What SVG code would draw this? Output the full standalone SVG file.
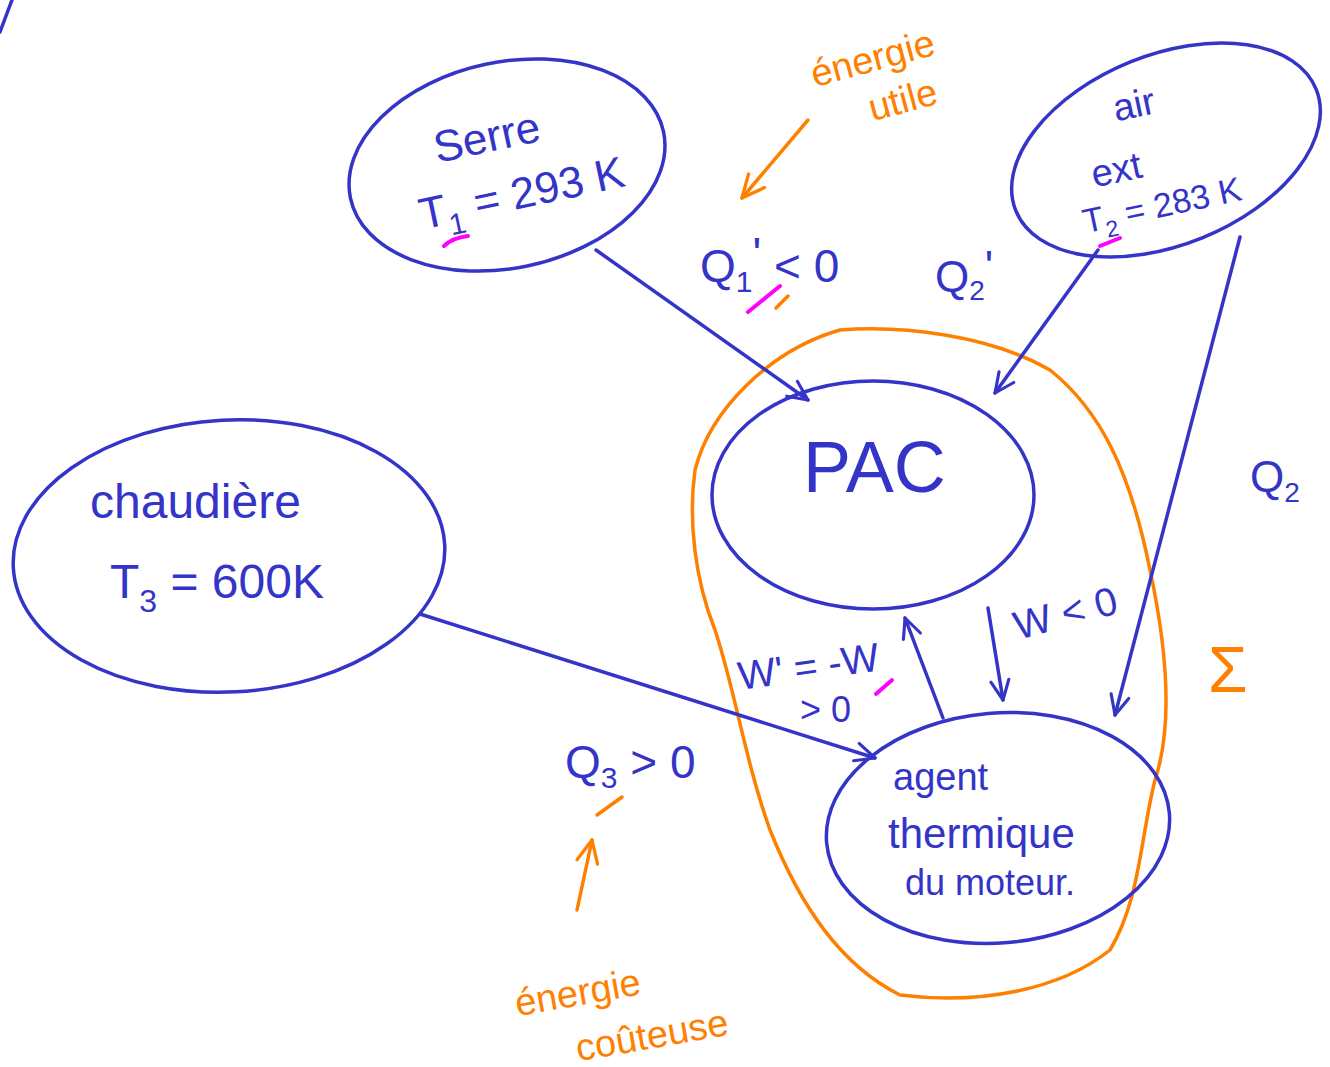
<svg xmlns="http://www.w3.org/2000/svg" width="1330" height="1067" viewBox="0 0 1330 1067">
<defs>
<style>
.b{fill:none;stroke:#3434C8;stroke-width:3.5;stroke-linecap:round;stroke-linejoin:round}
.o{fill:none;stroke:#FF8000;stroke-width:3.5;stroke-linecap:round;stroke-linejoin:round}
.m{fill:none;stroke:#FF00FF;stroke-width:4;stroke-linecap:round}
.tb{fill:#3434C8;font-family:"Liberation Sans","DejaVu Sans",sans-serif}
.to{fill:#FF8000;font-family:"Liberation Sans","DejaVu Sans",sans-serif}
</style>
<marker id="ab" viewBox="0 0 20 20" refX="18" refY="10" markerWidth="26" markerHeight="26" markerUnits="userSpaceOnUse" orient="auto">
<path d="M3,3 L18,10 L3,17" fill="none" stroke="#3434C8" stroke-width="2.4" stroke-linecap="round" stroke-linejoin="round"/>
</marker>
<marker id="ao" viewBox="0 0 20 20" refX="18" refY="10" markerWidth="30" markerHeight="30" markerUnits="userSpaceOnUse" orient="auto">
<path d="M3,3 L18,10 L3,17" fill="none" stroke="#FF8000" stroke-width="2.2" stroke-linecap="round" stroke-linejoin="round"/>
</marker>
</defs>
<rect width="1330" height="1067" fill="#fff"/>
<path class="b" d="M0,32 L12,0"/>

<g id="sigma">
<path class="o" d="M840,330 C900,325 990,335 1050,370 C1100,410 1130,470 1150,570 C1165,640 1175,720 1155,780 C1140,840 1140,900 1110,950 C1060,990 980,1005 900,995 C840,965 800,905 770,830 C745,760 735,690 715,630 C695,580 688,520 695,470 C710,410 770,350 840,330 Z"/>
<text class="to" x="1208" y="692" font-size="64">Σ</text>
</g>

<g id="serre">
<ellipse class="b" cx="507" cy="165" rx="160" ry="103" transform="rotate(-12 507 165)"/>
<g transform="rotate(-12 500 170)">
<text class="tb" x="440" y="150" font-size="44">Serre</text>
<text class="tb" x="412" y="212" font-size="44">T<tspan font-size="30" dy="12">1</tspan><tspan dy="-12"> = 293 K</tspan></text>
</g>
<path class="m" d="M444,246 Q452,238 468,236"/>
</g>

<g id="air">
<ellipse class="b" cx="1166" cy="150" rx="162" ry="95" transform="rotate(-22 1166 150)"/>
<g transform="rotate(-12 1166 160)">
<text class="tb" x="1125" y="112" font-size="38">air</text>
<text class="tb" x="1090" y="172" font-size="38">ext</text>
<text class="tb" x="1072" y="215" font-size="34">T<tspan font-size="23" dy="9">2</tspan><tspan dy="-9"> = 283 K</tspan></text>
</g>
<path class="m" d="M1100,246 L1120,238"/>
</g>

<g id="chaudiere">
<ellipse class="b" cx="229" cy="556" rx="216" ry="136" transform="rotate(-3 229 556)"/>
<text class="tb" x="90" y="518" font-size="48">chaudière</text>
<text class="tb" x="110" y="598" font-size="48">T<tspan font-size="32" dy="14">3</tspan><tspan dy="-14"> = 600K</tspan></text>
</g>

<g id="pac">
<ellipse class="b" cx="873" cy="495" rx="161" ry="114"/>
<text class="tb" x="803" y="492" font-size="72">PAC</text>
</g>

<g id="agent">
<ellipse class="b" cx="998" cy="828" rx="172" ry="115" transform="rotate(-5 998 828)"/>
<text class="tb" x="893" y="790" font-size="38">agent</text>
<text class="tb" x="888" y="848" font-size="42">thermique</text>
<text class="tb" x="905" y="895" font-size="36">du moteur.</text>
</g>

<g id="connectors">
<path class="b" d="M596,250 L808,400" marker-end="url(#ab)"/>
<path class="b" d="M1098,250 L995,393" marker-end="url(#ab)"/>
<path class="b" d="M1240,237 L1115,715" marker-end="url(#ab)"/>
<path class="b" d="M420,614 L875,758" marker-end="url(#ab)"/>
<path class="b" d="M943,718 L905,618" marker-end="url(#ab)"/>
<path class="b" d="M988,608 L1003,700" marker-end="url(#ab)"/>
<path class="o" d="M808,120 L742,198" marker-end="url(#ao)"/>
<path class="o" d="M577,910 L592,840" marker-end="url(#ao)"/>
</g>

<g id="labels">
<text class="tb" x="700" y="282" font-size="46">Q<tspan font-size="30" dy="10">1</tspan><tspan dy="-22">'</tspan><tspan dy="12"> &lt; 0</tspan></text>
<path class="m" d="M748,312 L780,286"/>
<path class="o" d="M776,308 L788,296" stroke-width="6"/>
<text class="tb" x="935" y="292" font-size="44">Q<tspan font-size="28" dy="8">2</tspan><tspan dy="-18">'</tspan></text>
<text class="tb" x="1250" y="492" font-size="44">Q<tspan font-size="28" dy="10">2</tspan></text>
<text class="tb" x="565" y="778" font-size="46">Q<tspan font-size="30" dy="10">3</tspan><tspan dy="-10"> &gt; 0</tspan></text>
<path class="o" d="M597,815 L622,797" stroke-width="6"/>
<text class="tb" x="740" y="690" font-size="40" transform="rotate(-8 740 690)">W' = -W</text>
<text class="tb" x="800" y="722" font-size="36">&gt; 0</text>
<path class="m" d="M876,694 L892,680"/>
<text class="tb" x="1018" y="640" font-size="40" transform="rotate(-15 1018 640)">W &lt; 0</text>
<g transform="rotate(-15 880 80)">
<text class="to" x="815" y="70" font-size="38">énergie</text>
<text class="to" x="862" y="118" font-size="38">utile</text>
</g>
<g transform="rotate(-10 640 1020)">
<text class="to" x="520" y="995" font-size="38">énergie</text>
<text class="to" x="572" y="1050" font-size="38">coûteuse</text>
</g>
</g>
</svg>
